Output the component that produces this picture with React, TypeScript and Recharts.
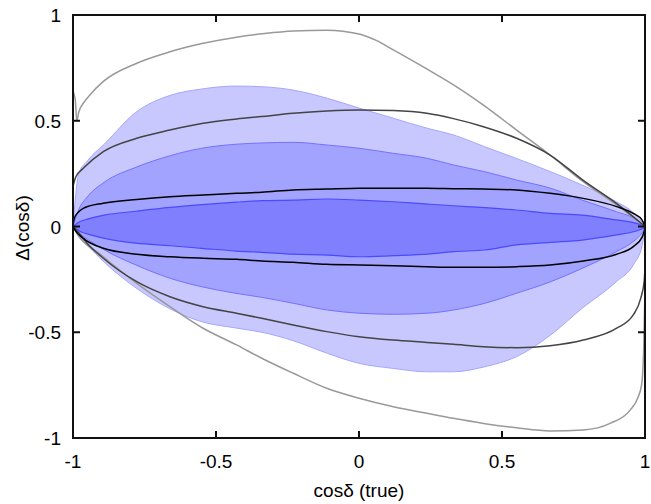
import React from 'react';
import { ComposedChart, Area, Line, XAxis, YAxis, Label } from 'recharts';

const X_TICKS = [-1, -0.5, 0, 0.5, 1];
const Y_TICKS = [-1, -0.5, 0, 0.5, 1];
const X_TITLE = 'cosδ (true)';
const Y_TITLE = 'Δ(cosδ)';

const BAND_X = [-1, -0.98, -0.95, -0.89, -0.78, -0.66, -0.55, -0.43, -0.34, -0.23, -0.11, 0, 0.12, 0.24, 0.33, 0.44, 0.55, 0.67, 0.78, 0.9, 0.96, 0.99, 1];
const OUTER_HI = [0, 0.25, 0.31, 0.39, 0.54, 0.62, 0.65, 0.664, 0.661, 0.645, 0.606, 0.56, 0.512, 0.464, 0.433, 0.377, 0.322, 0.259, 0.196, 0.117, 0.065, 0.02, 0];
const OUTER_LO = [0, -0.05, -0.09, -0.17, -0.29, -0.39, -0.45, -0.48, -0.5, -0.54, -0.6, -0.647, -0.671, -0.687, -0.687, -0.663, -0.616, -0.513, -0.387, -0.261, -0.18, -0.09, -0.01];
const MID_HI = [0, 0.08, 0.14, 0.21, 0.28, 0.335, 0.37, 0.389, 0.395, 0.398, 0.385, 0.37, 0.346, 0.322, 0.291, 0.259, 0.22, 0.181, 0.125, 0.07, 0.04, 0.012, 0];
const MID_LO = [0, -0.03, -0.06, -0.111, -0.182, -0.245, -0.285, -0.316, -0.335, -0.363, -0.395, -0.41, -0.415, -0.41, -0.395, -0.363, -0.316, -0.261, -0.198, -0.119, -0.07, -0.03, -0.01];
const INNER_HI = [0, 0.02, 0.035, 0.054, 0.072, 0.09, 0.103, 0.115, 0.122, 0.125, 0.13, 0.125, 0.117, 0.106, 0.098, 0.089, 0.078, 0.062, 0.054, 0.031, 0.018, 0.006, 0];
const INNER_LO = [0, -0.02, -0.035, -0.056, -0.079, -0.091, -0.103, -0.116, -0.122, -0.131, -0.135, -0.143, -0.138, -0.131, -0.119, -0.111, -0.087, -0.075, -0.064, -0.04, -0.025, -0.012, -0.008];

const BLACK_TOP_X = [-1, -0.995, -0.98, -0.964, -0.894, -0.777, -0.661, -0.545, -0.428, -0.34, -0.23, -0.113, 0, 0.12, 0.237, 0.33, 0.435, 0.551, 0.668, 0.784, 0.901, 0.959, 0.99, 1];
const BLACK_TOP_Y = [0.01, 0.04, 0.07, 0.086, 0.11, 0.128, 0.141, 0.149, 0.157, 0.162, 0.173, 0.177, 0.181, 0.181, 0.181, 0.179, 0.177, 0.173, 0.157, 0.133, 0.094, 0.062, 0.03, 0];
const BLACK_BOT_X = [-1, -0.993, -0.964, -0.894, -0.777, -0.661, -0.545, -0.428, -0.34, -0.23, -0.113, 0, 0.12, 0.237, 0.33, 0.435, 0.551, 0.668, 0.784, 0.901, 0.959, 0.99, 1];
const BLACK_BOT_Y = [0, -0.017, -0.056, -0.103, -0.131, -0.143, -0.15, -0.155, -0.163, -0.169, -0.179, -0.182, -0.185, -0.19, -0.193, -0.193, -0.19, -0.182, -0.163, -0.131, -0.095, -0.05, -0.01];

const DARK_TOP_X = [-1, -0.99, -0.964, -0.894, -0.777, -0.661, -0.545, -0.428, -0.34, -0.23, -0.113, 0, 0.12, 0.237, 0.33, 0.435, 0.551, 0.668, 0.784, 0.901, 1];
const DARK_TOP_Y = [0.19, 0.235, 0.275, 0.354, 0.417, 0.456, 0.488, 0.508, 0.52, 0.535, 0.546, 0.551, 0.548, 0.535, 0.51, 0.472, 0.417, 0.338, 0.218, 0.108, 0];
const DARK_BOT_X = [-1, -0.98, -0.95, -0.894, -0.777, -0.661, -0.545, -0.428, -0.34, -0.23, -0.113, 0, 0.12, 0.237, 0.33, 0.435, 0.551, 0.668, 0.784, 0.901, 0.959, 0.985, 0.997, 1];
const DARK_BOT_Y = [0, -0.03, -0.08, -0.15, -0.261, -0.332, -0.379, -0.41, -0.434, -0.466, -0.497, -0.521, -0.537, -0.548, -0.557, -0.568, -0.573, -0.564, -0.537, -0.481, -0.418, -0.34, -0.26, -0.2];

const LIGHT_TOP_X = [-1, -0.992, -0.987, -0.98, -0.96, -0.941, -0.895, -0.777, -0.661, -0.545, -0.428, -0.33, -0.23, -0.113, 0, 0.06, 0.12, 0.237, 0.336, 0.435, 0.551, 0.668, 0.784, 0.901, 1];
const LIGHT_TOP_Y = [0.64, 0.6, 0.5, 0.54, 0.59, 0.622, 0.685, 0.772, 0.826, 0.866, 0.895, 0.912, 0.924, 0.928, 0.91, 0.88, 0.835, 0.745, 0.665, 0.574, 0.456, 0.338, 0.212, 0.102, 0];
const LIGHT_BOT_X = [-1, -0.993, -0.894, -0.777, -0.661, -0.545, -0.428, -0.34, -0.23, -0.113, 0, 0.12, 0.237, 0.33, 0.435, 0.551, 0.668, 0.784, 0.878, 0.948, 0.975, 0.988, 0.995, 1];
const LIGHT_BOT_Y = [0, -0.017, -0.143, -0.269, -0.379, -0.481, -0.56, -0.623, -0.694, -0.765, -0.812, -0.852, -0.883, -0.907, -0.931, -0.952, -0.967, -0.962, -0.931, -0.868, -0.81, -0.749, -0.6, -0.3];

const band = (lo: number[], hi: number[]) => BAND_X.map((x, i) => ({ x, range: [lo[i], hi[i]] }));
const pts = (xs: number[], ys: number[]) => xs.map((x, i) => ({ x, y: ys[i] }));

// layout
const W = 651;
const H = 504;
const PLOT_L = 73;
const PLOT_T = 15;
const PLOT_R = 6;
const X_AXIS_H = 66;
const PLOT_W = W - PLOT_L - PLOT_R;
const PLOT_H = H - PLOT_T - X_AXIS_H;
const TICK_SIZE = 6;
const TICK_MARGIN = 2;
const OFF = TICK_SIZE + TICK_MARGIN;

const FONT = 'Liberation Sans, Arial, Helvetica, sans-serif';
const FS = 19;
const TL = 7;
const TEXT = '#000000';
const FRAME = '#111111';

const fmt = (v: number) => String(v);

const BottomTick = (p: any) => {
  const y0 = p.y - OFF;
  const yTop = y0 - PLOT_H;
  return (
    <g>
      <path d={`M${p.x},${y0}V${y0 - TL}M${p.x},${yTop}V${yTop + TL}`} stroke={FRAME} strokeWidth={2} fill="none" />
      <text x={p.x} y={y0 + 30} textAnchor="middle" fontSize={FS} fontFamily={FONT} fill={TEXT}>{fmt(p.payload.value)}</text>
    </g>
  );
};
const LeftTick = (p: any) => {
  const x0 = p.x + OFF;
  const xR = x0 + PLOT_W;
  return (
    <g>
      <path d={`M${x0},${p.y}H${x0 + TL}M${xR},${p.y}H${xR - TL}`} stroke={FRAME} strokeWidth={2} fill="none" />
      <text x={x0 - 12} y={p.y + 7} textAnchor="end" fontSize={FS} fontFamily={FONT} fill={TEXT}>{fmt(p.payload.value)}</text>
    </g>
  );
};

const axisLine = { stroke: FRAME, strokeWidth: 2 };

export default function App() {
  return (
    <div style={{ position: 'absolute', left: 0, top: 0, width: W, height: H }}>
      <ComposedChart width={W} height={H} margin={{ top: PLOT_T, right: PLOT_R, bottom: 0, left: 0 }}>
        <XAxis xAxisId="b" type="number" dataKey="x" domain={[-1, 1]} ticks={X_TICKS} allowDataOverflow
          height={X_AXIS_H} tickSize={TICK_SIZE} tickMargin={TICK_MARGIN} tickLine={false} axisLine={axisLine} tick={BottomTick}>
          <Label value={X_TITLE} position="insideBottom" offset={7} fontSize={FS} fontFamily={FONT} fill={TEXT} />
        </XAxis>
        <YAxis yAxisId="l" type="number" domain={[-1, 1]} ticks={Y_TICKS} allowDataOverflow
          width={PLOT_L} tickSize={TICK_SIZE} tickMargin={TICK_MARGIN} tickLine={false} axisLine={axisLine} tick={LeftTick}>
          <Label content={() => (
            <text x={22} y={228} transform="rotate(-90 22 228)" textAnchor="middle" dominantBaseline="central" fontSize={FS} fontFamily={FONT} fill={TEXT}>{Y_TITLE}</text>
          )} />
        </YAxis>

        <Area xAxisId="b" yAxisId="l" data={band(OUTER_LO, OUTER_HI)} dataKey="range" type="monotoneX"
          fill="#c8c8ff" fillOpacity={1} stroke="#a6a6ff" strokeWidth={1} isAnimationActive={false} />
        <Area xAxisId="b" yAxisId="l" data={band(MID_LO, MID_HI)} dataKey="range" type="monotoneX"
          fill="#a2a2ff" fillOpacity={1} stroke="#7272ff" strokeWidth={1} isAnimationActive={false} />
        <Area xAxisId="b" yAxisId="l" data={band(INNER_LO, INNER_HI)} dataKey="range" type="monotoneX"
          fill="#8080ff" fillOpacity={1} stroke="#4a4aff" strokeWidth={1.2} isAnimationActive={false} />

        <Line xAxisId="b" yAxisId="l" data={pts(LIGHT_TOP_X, LIGHT_TOP_Y)} dataKey="y" type="monotoneX" stroke="#999999" strokeWidth={1.5} dot={false} isAnimationActive={false} />
        <Line xAxisId="b" yAxisId="l" data={pts(LIGHT_BOT_X, LIGHT_BOT_Y)} dataKey="y" type="monotoneX" stroke="#999999" strokeWidth={1.5} dot={false} isAnimationActive={false} />
        <Line xAxisId="b" yAxisId="l" data={pts(DARK_TOP_X, DARK_TOP_Y)} dataKey="y" type="monotoneX" stroke="#444444" strokeWidth={1.5} dot={false} isAnimationActive={false} />
        <Line xAxisId="b" yAxisId="l" data={pts(DARK_BOT_X, DARK_BOT_Y)} dataKey="y" type="monotoneX" stroke="#444444" strokeWidth={1.5} dot={false} isAnimationActive={false} />
        <Line xAxisId="b" yAxisId="l" data={pts(BLACK_TOP_X, BLACK_TOP_Y)} dataKey="y" type="monotoneX" stroke="#000000" strokeWidth={1.5} dot={false} isAnimationActive={false} />
        <Line xAxisId="b" yAxisId="l" data={pts(BLACK_BOT_X, BLACK_BOT_Y)} dataKey="y" type="monotoneX" stroke="#000000" strokeWidth={1.5} dot={false} isAnimationActive={false} />
      </ComposedChart>
      <svg width={W} height={H} style={{ position: 'absolute', left: 0, top: 0, pointerEvents: 'none' }}>
        <rect x={PLOT_L} y={PLOT_T} width={PLOT_W} height={PLOT_H} fill="none" stroke={FRAME} strokeWidth={2} />
      </svg>
    </div>
  );
}
